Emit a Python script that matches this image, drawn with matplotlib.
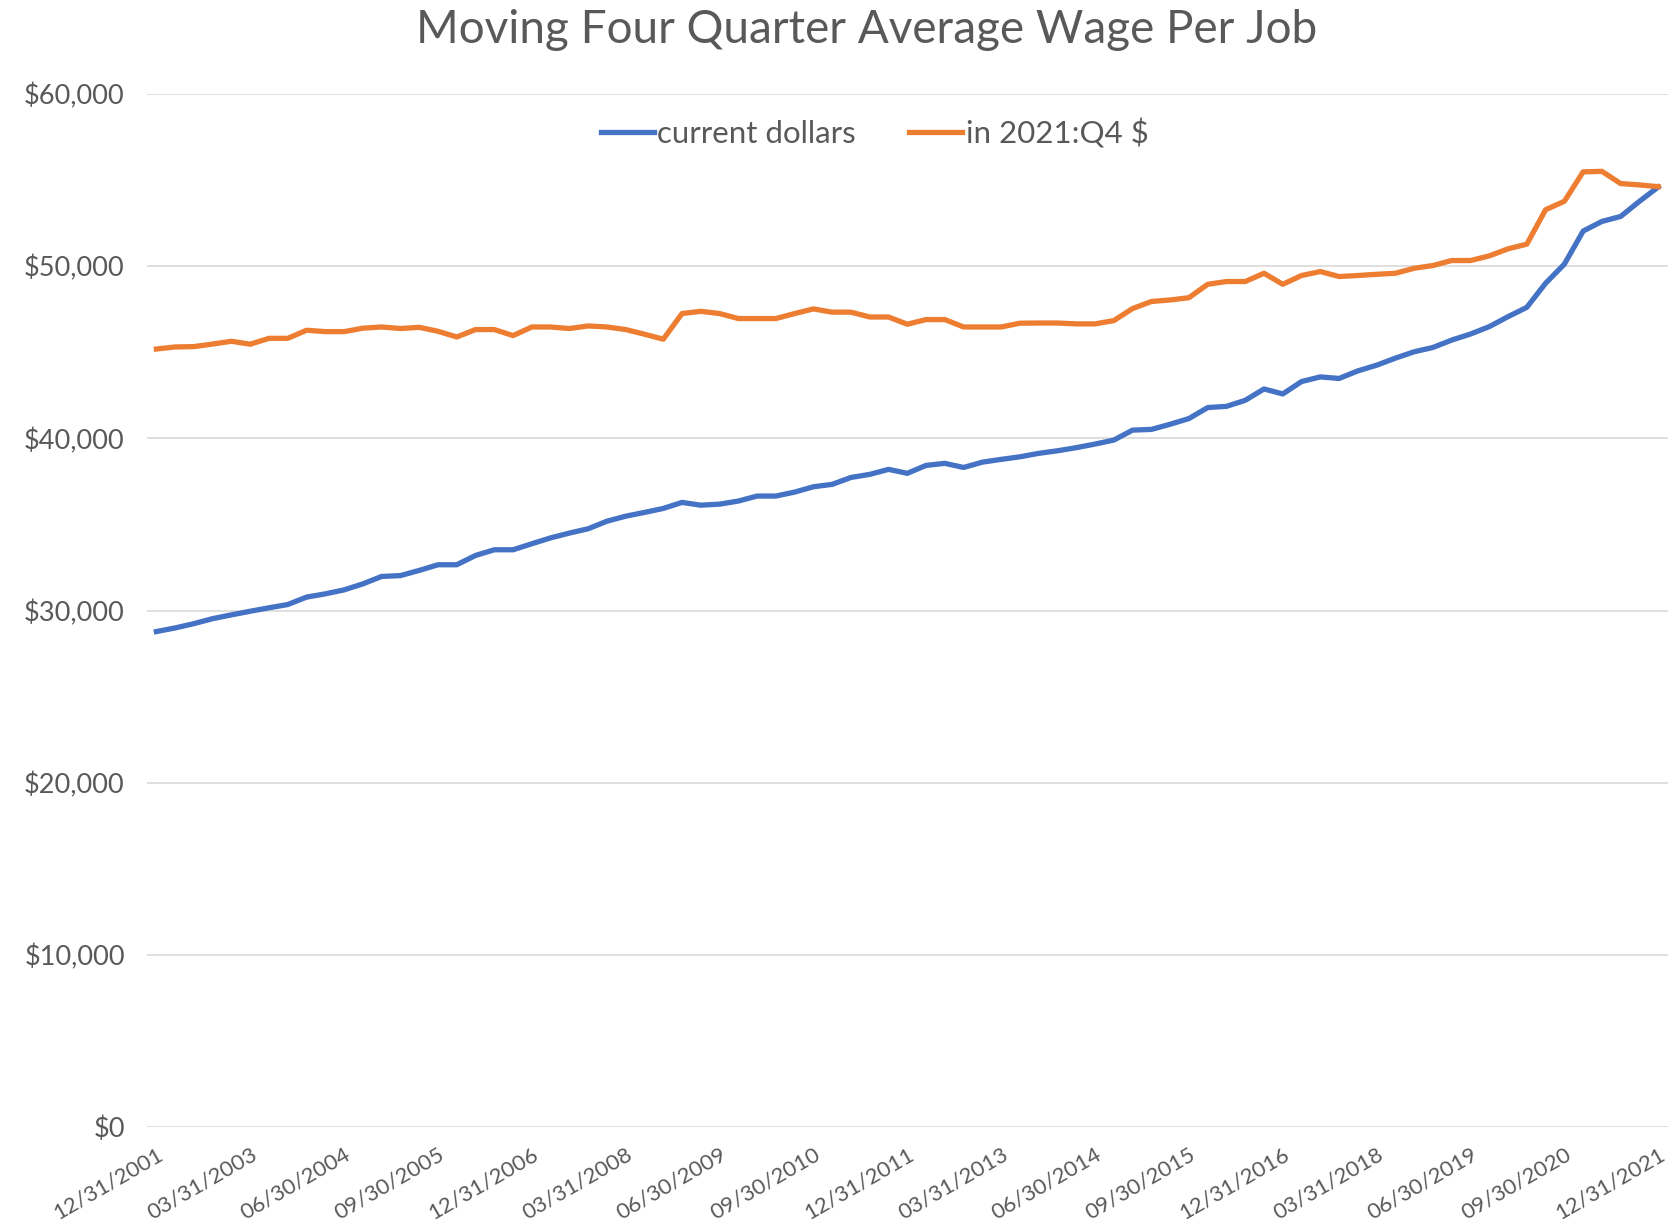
import matplotlib
matplotlib.use('Agg')
import matplotlib.pyplot as plt
import pandas as pd
from matplotlib.ticker import FuncFormatter

plt.rcParams['font.family'] = ['Lato', 'DejaVu Sans']

# quarters 12/31/2001 .. 12/31/2021
quarters = pd.date_range('2001-12-31', '2021-12-31', freq='QE').strftime('%m/%d/%Y').tolist()

current_dollars = [
    28780, 28990, 29240, 29530, 29750, 29960, 30160, 30350, 30780, 30970,
    31200, 31550, 31980, 32030, 32330, 32660, 32660, 33200, 33530, 33530,
    33880, 34220, 34500, 34750, 35190, 35480, 35700, 35930, 36280, 36120,
    36180, 36360, 36650, 36650, 36880, 37190, 37330, 37730, 37910, 38200,
    37970, 38430, 38550, 38310, 38620, 38780, 38930, 39130, 39280, 39460,
    39670, 39900, 40480, 40520, 40820, 41150, 41790, 41860, 42210, 42870,
    42580, 43300, 43570, 43480, 43920, 44250, 44660, 45030, 45280, 45710,
    46060, 46490, 47070, 47610, 49010, 50120, 52040, 52600, 52890, 53770,
    54600,
]
real_2021q4 = [
    45190, 45310, 45330, 45480, 45640, 45470, 45810, 45810, 46280, 46200,
    46200, 46400, 46470, 46380, 46450, 46220, 45890, 46320, 46320, 45970,
    46470, 46470, 46380, 46530, 46470, 46320, 46050, 45760, 47250, 47380,
    47250, 46960, 46960, 46960, 47250, 47520, 47330, 47330, 47050, 47050,
    46630, 46900, 46900, 46470, 46470, 46470, 46690, 46700, 46700, 46650,
    46650, 46840, 47540, 47950, 48040, 48170, 48950, 49110, 49110, 49590,
    48950, 49460, 49690, 49400, 49460, 49530, 49590, 49880, 50040, 50330,
    50330, 50600, 51010, 51280, 53280, 53770, 55480, 55510, 54800, 54720,
    54620,
]
tick_labels = ['12/31/2001', '03/31/2003', '06/30/2004', '09/30/2005', '12/31/2006',
               '03/31/2008', '06/30/2009', '09/30/2010', '12/31/2011', '03/31/2013',
               '06/30/2014', '09/30/2015', '12/31/2016', '03/31/2018', '06/30/2019',
               '09/30/2020', '12/31/2021']

grey = '#595959'
fig = plt.figure(figsize=(16.76, 12.26), dpi=100)
ax = fig.add_axes([0.0877, 0.0807, 0.9073, 0.8426])

x = range(len(quarters))
ax.plot(x, current_dollars, color='#4472C4', lw=3.8, label='current dollars', solid_joinstyle='round')
ax.plot(x, real_2021q4, color='#ED7D31', lw=3.8, label='in 2021:Q4 $', solid_joinstyle='round')

ax.set_ylim(0, 60000)
ax.set_xlim(-0.5, len(quarters) - 0.5)
ax.set_yticks(range(0, 60001, 10000))
ax.yaxis.set_major_formatter(FuncFormatter(lambda v, p: '${:,.0f}'.format(v)))
ax.grid(axis='y', color='#D9D9D9', lw=1.2)
ax.set_axisbelow(True)
for s in ax.spines.values():
    s.set_visible(False)

pos = [quarters.index(t) for t in tick_labels]
ax.set_xticks(pos)
ax.set_xticklabels(tick_labels, rotation=30, ha='right', va='top', rotation_mode='anchor',
                   fontsize=16, color=grey)
ax.tick_params(axis='x', length=0, pad=12)
ax.tick_params(axis='y', length=0, pad=16, labelsize=19.5, labelcolor=grey)

fig.text(0.517, 0.9755, 'Moving Four Quarter Average Wage Per Job', ha='center', va='center',
         fontsize=33, color=grey)
fig.legend(loc='center', bbox_to_anchor=(0.522, 0.8915), ncol=2, frameon=False,
           fontsize=22.5, labelcolor=grey, handlelength=1.7, handletextpad=0.12,
           columnspacing=1.7)

plt.savefig('out.png', dpi=100)
plt.close()
